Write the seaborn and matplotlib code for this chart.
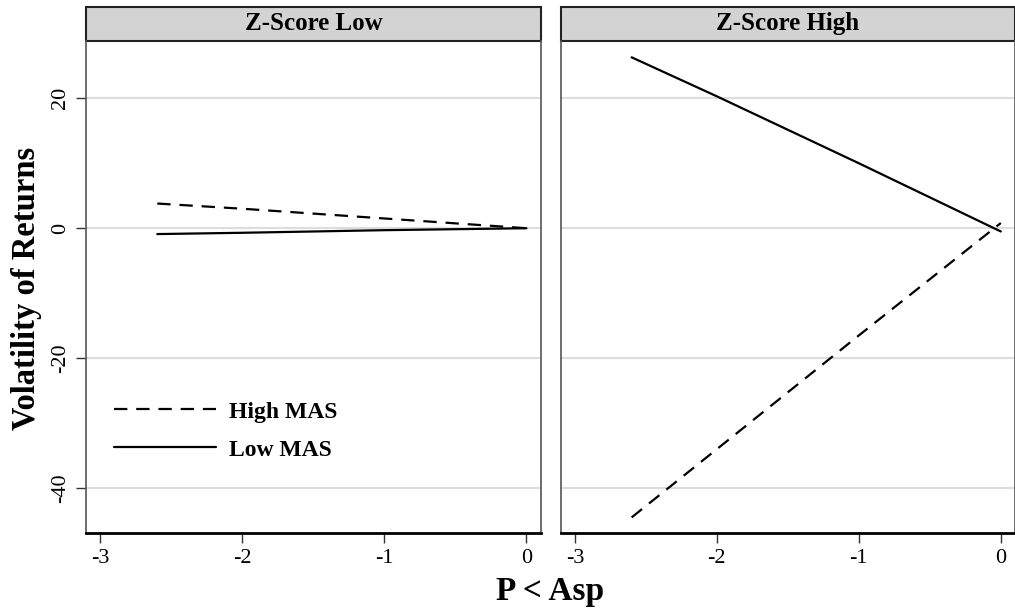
import pandas as pd
import seaborn as sns
import matplotlib.pyplot as plt
from matplotlib.patches import Rectangle

# values
x_vals = [-2.6, -2.0, -1.0, 0.0]
low_z_high_mas = [3.8, 3.0, 1.5, 0.0]
low_z_low_mas = [-0.9, -0.7, -0.3, 0.0]
high_z_high_mas = [-44.5, -34.0, -16.5, 0.8]
high_z_low_mas = [26.3, 20.3, 10.0, -0.5]
panels = ["Z-Score Low", "Z-Score High"]
groups = ["High MAS", "Low MAS"]
y_ticks = [-40, -20, 0, 20]
x_ticks = [-3, -2, -1, 0]

rows = []
for panel, hi, lo in [(panels[0], low_z_high_mas, low_z_low_mas),
                      (panels[1], high_z_high_mas, high_z_low_mas)]:
    for x, h, l in zip(x_vals, hi, lo):
        rows.append({"x": x, "y": h, "panel": panel, "group": groups[0]})
        rows.append({"x": x, "y": l, "panel": panel, "group": groups[1]})
df = pd.DataFrame(rows)

sns.set_style("white")
plt.rcParams['font.family'] = ['Liberation Serif', 'DejaVu Serif']
plt.rcParams['text.color'] = 'black'
plt.rcParams['xtick.color'] = 'black'
plt.rcParams['ytick.color'] = 'black'

g = sns.relplot(data=df, x="x", y="y", col="panel", col_order=panels,
                style="group", style_order=groups,
                dashes={groups[0]: (6, 4), groups[1]: ""},
                color="black", kind="line", linewidth=1.6,
                legend=False, height=6.13, aspect=0.83)
g.figure.set_size_inches(10.15, 6.13)
g.figure.subplots_adjust(left=0.085, right=1.0, top=0.933, bottom=0.1305, wspace=0.044)

for i, ax in enumerate(g.axes.flat):
    ax.set_xlim(-3.1, 0.1)
    ax.set_ylim(-46.9, 28.8)
    ax.set_xticks(x_ticks)
    ax.set_xticklabels([str(t) for t in x_ticks], fontsize=16)
    ax.set_yticks(y_ticks)
    ax.grid(axis="y", color="#dddddd", linewidth=1.5)
    ax.set_axisbelow(True)
    ax.set_title("")
    ax.set_xlabel("")
    ax.set_ylabel("")
    for s in ["left", "right"]:
        ax.spines[s].set_visible(True)
        ax.spines[s].set_color("#555555")
        ax.spines[s].set_linewidth(1.2)
    ax.spines["top"].set_visible(False)
    ax.spines["bottom"].set_color("black")
    ax.spines["bottom"].set_linewidth(2)
    ax.tick_params(axis="x", bottom=True, length=7.5, width=1, color="#333333", pad=4)
    if i == 0:
        ax.set_yticklabels([str(t) for t in y_ticks], fontsize=16, rotation=90, va="center")
        ax.tick_params(axis="y", left=True, length=7.5, width=1, color="#333333", pad=4)
    else:
        ax.tick_params(axis="y", left=False, labelleft=False)
    # strip header
    ax.add_patch(Rectangle((0, 1.0), 1, 0.069, transform=ax.transAxes,
                           facecolor="#d3d3d3", edgecolor="#222222",
                           linewidth=1.5, clip_on=False))
    ax.text(0.5, 1.036, panels[i], transform=ax.transAxes, ha="center",
            va="center", fontsize=18, fontweight="bold")

ax0 = g.axes.flat[0]
handles = ax0.get_lines()[:2]
ax0.legend(handles, groups, loc="lower left", bbox_to_anchor=(0.015, 0.104),
           frameon=False, handlelength=4.3,
           prop={"weight": "bold", "size": 17}, labelspacing=0.7, handletextpad=0.55)

g.figure.text(0.026, 0.53, "Volatility of Returns", rotation=90, ha="center",
              va="center", fontsize=23.5, fontweight="bold")
g.figure.text(0.542, 0.035, "P < Asp", ha="center", va="center",
              fontsize=24, fontweight="bold")

g.figure.savefig("out.png", dpi=100)
